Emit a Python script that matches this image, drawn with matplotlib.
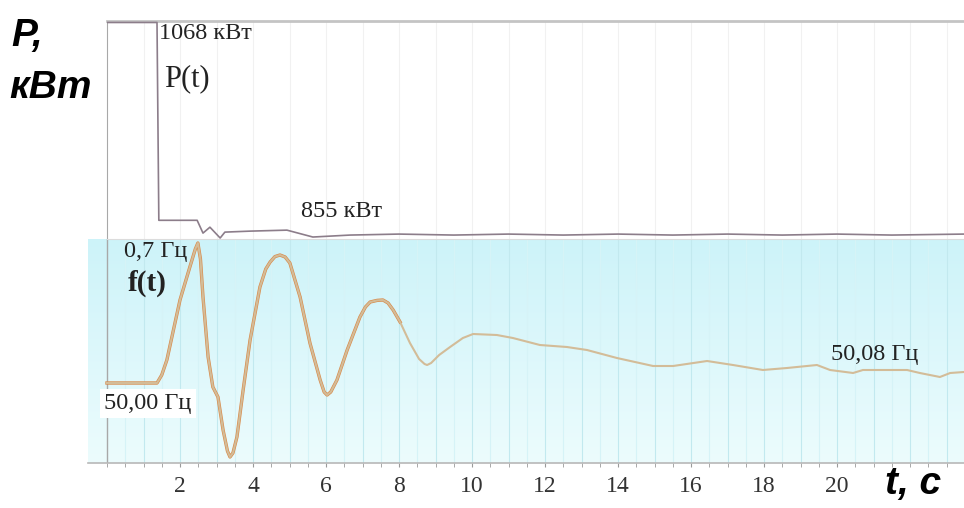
import matplotlib.pyplot as plt
import numpy as np
from matplotlib.colors import LinearSegmentedColormap

# P(t), кВт
t_p = [0, 1.37, 1.42, 2.47, 2.63, 2.82, 3.10, 3.23, 3.92, 4.93, 5.64, 6.66,
       8.0, 9.5, 11.0, 12.5, 14.0, 15.5, 17.0, 18.5, 20.0, 21.5, 23.48]
p_vals = [1068, 1068, 867, 867, 854, 860, 849, 855, 856, 857, 850, 852,
          853, 852, 853, 852, 853, 852, 853, 852, 853, 852, 853]

# f(t), Гц
t_f = [0, 1.37, 1.50, 1.64, 2.00, 2.27, 2.42, 2.49, 2.56, 2.63, 2.77, 2.90,
       3.04, 3.18, 3.30, 3.37, 3.45, 3.56, 3.73, 3.92, 4.19, 4.35, 4.47,
       4.60, 4.74, 4.88, 5.01, 5.29, 5.56, 5.84, 5.95, 6.03, 6.13, 6.30,
       6.58, 6.93, 7.08, 7.21, 7.40, 7.56, 7.70, 7.84, 8.03, 8.30, 8.55,
       8.70, 8.77, 8.88, 9.10, 9.40, 9.75, 10.03, 10.68, 11.12, 11.86,
       12.60, 13.15, 13.97, 14.96, 15.51, 16.44, 17.15, 17.97, 18.63, 19.45,
       19.81, 20.44, 20.71, 21.92, 22.27, 22.82, 23.10, 23.48]
f_vals = [50.0, 50.0, 50.04, 50.115, 50.415, 50.58, 50.67, 50.70, 50.62,
          50.43, 50.13, 49.98, 49.93, 49.765, 49.66, 49.63, 49.65, 49.73,
          49.965, 50.215, 50.48, 50.57, 50.605, 50.632, 50.64, 50.63, 50.60,
          50.43, 50.20, 50.015, 49.955, 49.94, 49.955, 50.015, 50.165, 50.33,
          50.38, 50.405, 50.413, 50.415, 50.40, 50.365, 50.305, 50.20, 50.12,
          50.095, 50.09, 50.10, 50.14, 50.18, 50.225, 50.245, 50.24, 50.225,
          50.19, 50.18, 50.165, 50.125, 50.085, 50.085, 50.11, 50.09, 50.065,
          50.075, 50.09, 50.065, 50.05, 50.065, 50.065, 50.05, 50.03, 50.05,
          50.055]

x_ticks = [2, 4, 6, 8, 10, 12, 14, 16, 18, 20]

W, H = 964, 508
px = 36.5  # pixels per second


def box(x0, y0, x1, y1):
    return [x0 / W, 1 - y1 / H, (x1 - x0) / W, (y1 - y0) / H]


def ftext(x, y, s, **kw):
    fig.text(x / W, 1 - y / H, s, **kw)


fig = plt.figure(figsize=(9.64, 5.08), dpi=100)
ax_f = fig.add_axes(box(88, 239, 964, 463))
ax_p = fig.add_axes(box(107, 21, 964, 239))

tmax = (964 - 107) / px

# frequency panel
cmap = LinearSegmentedColormap.from_list('bg', ['#ecfcfd', '#cdf3f9'])
grad = np.linspace(0, 1, 100).reshape(-1, 1)
ax_f.imshow(grad, extent=[0, 1, 0, 1], transform=ax_f.transAxes,
            aspect='auto', cmap=cmap, origin='lower', zorder=0)
for t in np.arange(0.5, 23.5, 0.5):
    c = '#c2e9ef' if t % 1 == 0 else '#d6f3f7'
    ax_f.axvline(t, color=c, lw=0.8, zorder=1)
ax_f.axvline(0, color='#a8a8a8', lw=1, zorder=2)

t_arr = np.array(t_f)
f_arr = np.array(f_vals)
early = t_arr <= 8.1
ax_f.plot(t_arr[early], f_arr[early], color='#d98a4a', lw=2.4, zorder=3,
          solid_joinstyle='round')
ax_f.plot(t_arr, f_arr, color='#d3bc98', lw=1.5, zorder=4,
          solid_joinstyle='round')

ax_f.set_xlim(-19 / px, tmax)
ax_f.set_ylim(49.60, 50.72)
for s in ['top', 'left', 'right']:
    ax_f.spines[s].set_visible(False)
ax_f.spines['bottom'].set_color('#b8b8b8')
ax_f.spines['bottom'].set_linewidth(1.2)
ax_f.set_yticks([])
ax_f.set_xticks(x_ticks)
ax_f.set_xticks(np.arange(0, 23.5, 0.5), minor=True)
ax_f.tick_params(axis='x', which='both', length=3, color='#9a9a9a',
                 labelsize=17, labelcolor='#333333', pad=6)
for lab in ax_f.get_xticklabels():
    lab.set_family('Liberation Serif')

# power panel
ax_p.set_facecolor('white')
for t in np.arange(1, 24, 1):
    ax_p.axvline(t, color='#f1f1f1', lw=0.8, zorder=1)
ax_p.plot(t_p, p_vals, color='#8c7d8a', lw=1.2, zorder=3)
ax_p.set_xlim(0, tmax)
ax_p.set_ylim(848, 1069.5)
ax_p.set_xticks([])
ax_p.set_yticks([])
ax_p.spines['right'].set_visible(False)
ax_p.spines['top'].set_color('#c4c4c4')
ax_p.spines['top'].set_linewidth(2)
ax_p.spines['left'].set_color('#a8a8a8')
ax_p.spines['bottom'].set_color('#dcdcdc')

# labels
serif = 'Liberation Serif'
bi = dict(fontweight='bold', fontstyle='italic', family='Liberation Sans',
          va='top', color='black', fontsize=28)
ftext(11, 18, 'P,', **bi)
ftext(9, 70, 'кВт', **bi)
ftext(885, 466, 't, c', **bi)
ftext(159, 23, '1068 кВт', fontsize=17.5, family=serif, va='top', color='#222222')
ftext(164, 64, 'P(t)', fontsize=22, family=serif, va='top', color='#222222')
ftext(301, 201, '855 кВт', fontsize=17.5, family=serif, va='top', color='#222222')
ftext(124, 241, '0,7 Гц', fontsize=17.5, family=serif, va='top', color='#222222')
ftext(128, 270, 'f(t)', fontsize=21, family=serif, fontweight='bold',
      va='top', color='#222222')
ftext(104, 393, '50,00 Гц', fontsize=17.5, family=serif, va='top', color='#222222',
      bbox=dict(facecolor='white', edgecolor='none', pad=3))
ftext(831, 344, '50,08 Гц', fontsize=17.5, family=serif, va='top', color='#222222')

fig.savefig('out.png', dpi=100)
